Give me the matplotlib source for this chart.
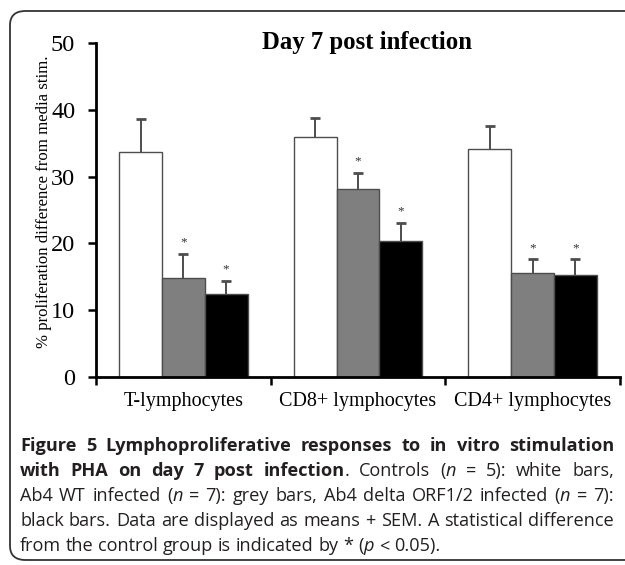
import matplotlib
matplotlib.use("Agg")
import matplotlib.pyplot as plt
import numpy as np
from matplotlib.patches import FancyBboxPatch

# values (mean, upper SEM)
categories = ["T-lymphocytes", "CD8+ lymphocytes", "CD4+ lymphocytes"]
controls = [33.7, 36.0, 34.1]
controls_sem = [4.9, 2.8, 3.5]
wt = [14.8, 28.1, 15.5]
wt_sem = [3.6, 2.5, 2.1]
delta = [12.5, 20.4, 15.2]
delta_sem = [1.9, 2.7, 2.4]
wt_sig = [True, True, True]
delta_sig = [True, True, True]
yticks = [0, 10, 20, 30, 40, 50]

SERIF = ["Liberation Serif", "DejaVu Serif"]
SANS = ["Open Sans", "DejaVu Sans"]
W, H = 625, 565
EDGE = "#4d4d4d"

fig = plt.figure(figsize=(W / 100, H / 100), dpi=100)
fig.patch.set_facecolor("white")

# rounded frame, open on the right
frame = FancyBboxPatch((10 / W, 5 / H), 1.2, 1 - 16 / H, boxstyle="round,pad=0,rounding_size=0.025",
                       transform=fig.transFigure, fill=False, ec="#333333", lw=1.3, clip_on=True)
fig.patches.append(frame)

ax = fig.add_axes([96 / W, 1 - 377 / H, 524 / W, 334 / H])
bw = 0.245
x = np.arange(len(categories)) + 0.5
series = [(controls, controls_sem, "white", None), (wt, wt_sem, "#7f7f7f", wt_sig),
          (delta, delta_sem, "black", delta_sig)]
for k, (vals, sem, col, sig) in enumerate(series):
    xs = x + (k - 1) * bw
    vals, sem = np.array(vals), np.array(sem)
    ax.bar(xs, vals, width=bw, color=col, edgecolor=EDGE, lw=1.0, zorder=2)
    # upper half error bar only
    ax.vlines(xs, vals, vals + sem, color=EDGE, lw=1.4, zorder=1)
    ax.plot(xs, vals + sem, ls="none", marker="_", ms=7, mew=2, color=EDGE, zorder=1)
    if sig:
        for xi, v, s, flag in zip(xs, vals, sem, sig):
            if flag:
                ax.text(xi, v + s + 1.7, "*", ha="center", va="center", fontsize=9.5,
                        family=SERIF, color="#333333")

ax.set_xlim(0, 3)
ax.set_ylim(0, 50)
ax.set_yticks(yticks)
ax.set_yticklabels([str(t) for t in yticks], family=SERIF, fontsize=17.5)
ax.set_xticks([0, 1, 2, 3])
ax.set_xticklabels([])
ax.set_xticks(x, minor=True)
ax.set_xticklabels(categories, minor=True, family=SERIF, fontsize=14.5)
ax.tick_params(axis="x", which="minor", length=0, pad=11)
ax.tick_params(axis="both", which="major", length=6, width=1.8, direction="out")
ax.tick_params(axis="y", which="major", pad=9)
for s in ("top", "right"):
    ax.spines[s].set_visible(False)
for s in ("left", "bottom"):
    ax.spines[s].set_linewidth(2)
fig.text(44 / W, 1 - 202 / H, "% proliferation difference from media stim.", rotation=90,
         ha="center", va="center", family=SERIF, fontsize=12.1)

fig.text(367 / W, 1 - 42 / H, "Day 7 post infection", ha="center", va="center",
         family=SERIF, fontsize=17.8, fontweight="bold")

# caption, word by word with justified lines
caption = [
    ([("Figure 5 Lymphoproliferative responses to in vitro stimulation", "b")], True),
    ([("with PHA on day 7 post infection", "b"), (". Controls (", "r"), ("n", "i"),
      (" = 5): white bars,", "r")], True),
    ([("Ab4 WT infected (", "r"), ("n", "i"), (" = 7): grey bars, Ab4 delta ORF1/2 infected (", "r"),
      ("n", "i"), (" = 7):", "r")], True),
    ([("black bars. Data are displayed as means + SEM. A statistical difference", "r")], True),
    ([("from the control group is indicated by * (", "r"), ("p", "i"), (" < 0.05).", "r")], False),
]
x0, x1 = 20, 614
y_lines = [446, 471, 496, 521, 546]
renderer = fig.canvas.get_renderer()
cap_size = [10.0]


def style_kw(st):
    kw = dict(family=SANS, fontsize=cap_size[0], color="#231f20")
    if st == "b":
        kw["fontweight"] = "bold"
    if st == "i":
        kw["fontstyle"] = "italic"
    return kw


def text_width(s, st):
    t = fig.text(0, 0, s, **style_kw(st))
    w = t.get_window_extent(renderer).width
    t.remove()
    return w


# size the caption so the fullest plain line just fills the column
cap_size[0] = 10.0 * 590 / text_width(caption[3][0][0][0], "r")

for (segs, justify), yl in zip(caption, y_lines):
    words = [[]]
    for s, st in segs:
        parts = s.split(" ")
        for j, p in enumerate(parts):
            if j > 0:
                words.append([])
            if p:
                words[-1].append((p, st))
    words = [w for w in words if w]
    widths = [[text_width(p, st) for p, st in w] for w in words]
    total = sum(sum(w) for w in widths)
    gap = (x1 - x0 - total) / (len(words) - 1) if justify else text_width("a b", "r") - text_width("ab", "r")
    xp = x0
    for w, ws in zip(words, widths):
        for (p, st), pw in zip(w, ws):
            fig.text(xp / W, 1 - yl / H, p, ha="left", va="center", **style_kw(st))
            xp += pw
        xp += gap

fig.savefig("out.png", dpi=100, facecolor="white")
